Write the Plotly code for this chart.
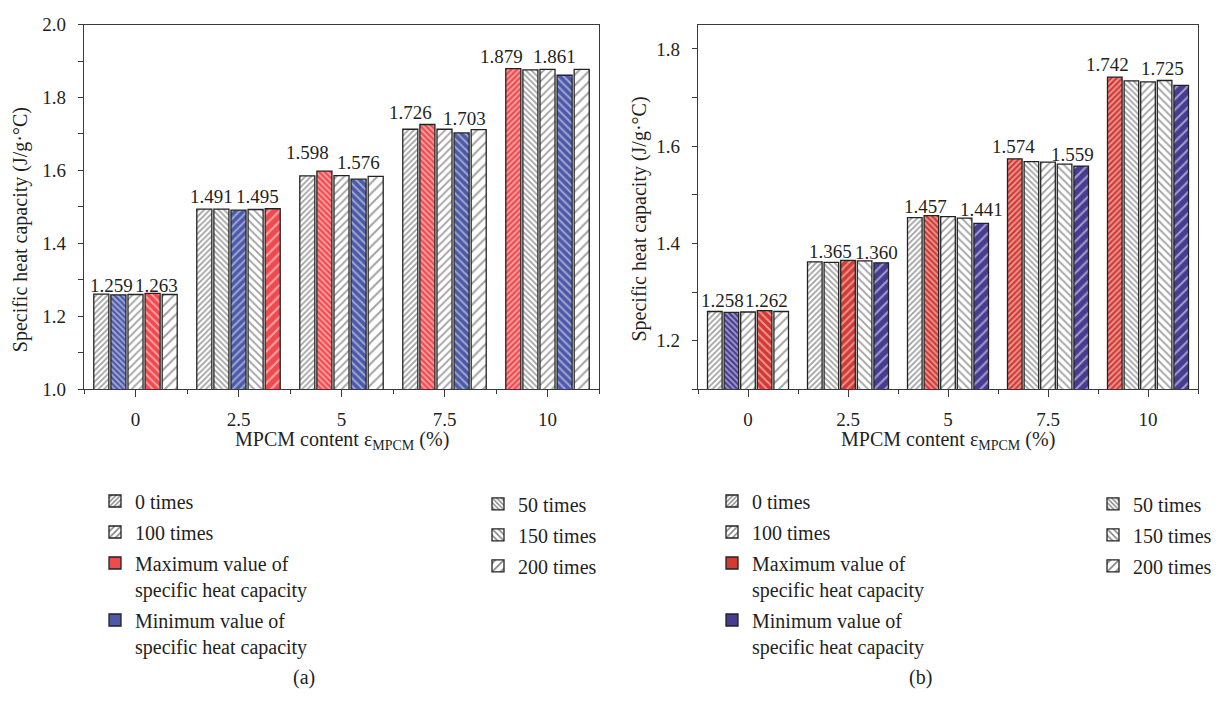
import plotly.graph_objects as go

# MPCM content (%) and its tick labels
contents = [0, 2.5, 5, 7.5, 10]
content_labels = ["0", "2.5", "5", "7.5", "10"]
cycles = ["0 times", "50 times", "100 times", "150 times", "200 times"]

# Specific heat capacity (J/g·°C) after each number of cycles, panel (a)
cp_a_0 = [1.261, 1.494, 1.585, 1.713, 1.879]
cp_a_50 = [1.259, 1.494, 1.598, 1.726, 1.876]
cp_a_100 = [1.260, 1.491, 1.586, 1.713, 1.877]
cp_a_150 = [1.263, 1.493, 1.576, 1.703, 1.861]
cp_a_200 = [1.260, 1.495, 1.584, 1.712, 1.877]

# Specific heat capacity (J/g·°C) after each number of cycles, panel (b)
cp_b_0 = [1.260, 1.362, 1.453, 1.574, 1.742]
cp_b_50 = [1.258, 1.361, 1.457, 1.568, 1.734]
cp_b_100 = [1.259, 1.365, 1.455, 1.567, 1.732]
cp_b_150 = [1.262, 1.364, 1.452, 1.563, 1.735]
cp_b_200 = [1.260, 1.360, 1.441, 1.559, 1.725]

W, H = 1226, 703
SERIF = "Liberation Serif, Times New Roman, Times, serif"
INK = "#231f20"
AXIS = "#3a3a3a"

# hatch style per cycle count: (shape, tile size, solidity)
hatch = [("/", 4, 0.45), ("\\", 4, 0.45), ("/", 5.5, 0.34), ("\\", 5.5, 0.34), ("/", 7.5, 0.26)]

BARGAP = 0.17
SLOT = 2.5 * (1 - BARGAP) / 5  # x-width taken by one bar of a group

panels = [
    dict(series=[cp_a_0, cp_a_50, cp_a_100, cp_a_150, cp_a_200], xa="x", ya="y",
         red="#ef4b4f", blue="#4c5aa8",
         # label nudges in px (dx, gap above bar) for max and min labels of each group
         max_nudge=[(3.5, 1.5), (-15, 5.4), (-17, 12.4), (-17, 5.4), (-12, 5.4)],
         min_nudge=[(-7, 2.9), (-27, 6.9), (0, 10.7), (3, 8.1), (-10, 12.1)],
         legends=("legend", "legend2")),
    dict(series=[cp_b_0, cp_b_50, cp_b_100, cp_b_150, cp_b_200], xa="x2", ya="y2",
         red="#d23a33", blue="#463d92",
         max_nudge=[(1.5, 3.3), (-17.5, 2.5), (-5.8, 2.5), (-1.5, 5.7), (-7.4, 5.7)],
         min_nudge=[(-8.5, 5.3), (-4.7, 3.7), (0, 7.2), (-8.6, 4.8), (-18.7, 10.8)],
         legends=("legend3", "legend4")),
]

fig = go.Figure()
annotations = []

for p in panels:
    series = p["series"]
    n_groups = len(contents)
    max_idx = [max(range(5), key=lambda s: series[s][g]) for g in range(n_groups)]
    min_idx = [min(range(5), key=lambda s: series[s][g]) for g in range(n_groups)]

    for s, vals in enumerate(series):
        colors = []
        for g in range(n_groups):
            if max_idx[g] == s:
                colors.append(p["red"])
            elif min_idx[g] == s:
                colors.append(p["blue"])
            else:
                colors.append("white")
        shape, size, sol = hatch[s]
        fig.add_trace(go.Bar(
            x=contents, y=vals, name=cycles[s], showlegend=False,
            xaxis=p["xa"], yaxis=p["ya"],
            marker=dict(color=colors, line=dict(color="#222222", width=1.3),
                        pattern=dict(shape=shape, size=size, solidity=sol,
                                     fgcolor="#000000", fillmode="overlay")),
        ))

    # value labels for the maximum and minimum bar of every group
    for g in range(n_groups):
        for idx, nudge in ((max_idx[g], p["max_nudge"][g]), (min_idx[g], p["min_nudge"][g])):
            v = series[idx][g]
            xc = contents[g] - 2.5 * (1 - BARGAP) / 2 + SLOT * (idx + 0.5)
            annotations.append(dict(
                x=xc, y=v, xref=p["xa"], yref=p["ya"], text=f"{v:.3f}",
                showarrow=False, xanchor="center", yanchor="bottom",
                xshift=nudge[0], yshift=nudge[1] - 6,
                font=dict(family=SERIF, size=19, color=INK)))

    # legend entries (drawn on a hidden axis pair so they do not take bar slots)
    left_leg, right_leg = p["legends"]
    entries = [
        (cycles[0], "white", hatch[0], left_leg),
        (cycles[2], "white", hatch[2], left_leg),
        ("Maximum value of<br>specific heat capacity", p["red"], None, left_leg),
        ("Minimum value of<br>specific heat capacity", p["blue"], None, left_leg),
        (cycles[1], "white", hatch[1], right_leg),
        (cycles[3], "white", hatch[3], right_leg),
        (cycles[4], "white", hatch[4], right_leg),
    ]
    for name, col, h, leg in entries:
        pat = dict(shape="") if h is None else dict(shape=h[0], size=h[1], solidity=h[2],
                                                     fgcolor="#000000", fillmode="overlay")
        fig.add_trace(go.Bar(
            x=[None], y=[None], name=name, legend=leg, legendgroup=leg + name,
            xaxis="x3", yaxis="y3", showlegend=True,
            marker=dict(color=col, line=dict(color="#222222", width=1.3), pattern=pat),
        ))

y_lo, y_hi = 1 - 391 / H, 1 - 15 / H

xaxis_common = dict(
    range=[-1.25, 11.25], tickvals=contents, ticktext=content_labels,
    showline=True, mirror=True, linecolor=AXIS, linewidth=1.3,
    ticks="outside", ticklen=7, tickwidth=1.2, tickcolor=AXIS,
    minor=dict(tickvals=[-1.25, 1.25, 3.75, 6.25, 8.75, 11.25], ticks="outside",
               ticklen=4, tickwidth=1.2, tickcolor=AXIS),
    showgrid=False, zeroline=False, ticklabelstandoff=6,
    tickfont=dict(family=SERIF, size=19, color=INK),
)
yaxis_common = dict(
    showline=True, mirror=True, linecolor=AXIS, linewidth=1.3,
    ticks="outside", ticklen=5, tickwidth=1.2, tickcolor=AXIS,
    showgrid=False, zeroline=False, tickformat=".1f", ticklabelstandoff=8,
    tickfont=dict(family=SERIF, size=19, color=INK),
)

fig.update_layout(
    xaxis=dict(domain=[84 / W, 599 / W], anchor="y", **xaxis_common),
    yaxis=dict(domain=[y_lo, y_hi], anchor="x", range=[1.0, 2.0], dtick=0.2, tick0=1.0,
               minor=dict(dtick=0.1, ticks="outside", ticklen=5, tickwidth=1.2, tickcolor=AXIS),
               **yaxis_common),
    xaxis2=dict(domain=[698 / W, 1198 / W], anchor="y2", **xaxis_common),
    yaxis2=dict(domain=[y_lo, y_hi], anchor="x2", range=[1.1, 1.85], dtick=0.2, tick0=1.2,
                minor=dict(dtick=0.1, tick0=1.1, ticks="outside", ticklen=5, tickwidth=1.2,
                           tickcolor=AXIS),
                **yaxis_common),
    xaxis3=dict(domain=[0, 0.001], anchor="y3", visible=False),
    yaxis3=dict(domain=[0, 0.001], anchor="x3", visible=False),
)

legend_common = dict(xanchor="left", yanchor="top", bgcolor="rgba(0,0,0,0)",
                     font=dict(family=SERIF, size=20, color=INK),
                     traceorder="grouped", tracegroupgap=2, valign="top",
                     itemclick=False, itemdoubleclick=False)
fig.update_layout(
    legend=dict(x=95 / W, y=1 - 486 / H, **legend_common),
    legend2=dict(x=478 / W, y=1 - 489 / H, **legend_common),
    legend3=dict(x=712 / W, y=1 - 486 / H, **legend_common),
    legend4=dict(x=1093 / W, y=1 - 489 / H, **legend_common),
)

# axis titles and panel tags
x_title = "MPCM content ε<sub>MPCM</sub> (%)"
y_title = "Specific heat capacity (J/g·°C)"
title_font = dict(family=SERIF, size=20, color=INK)
annotations += [
    dict(x=0.5, y=1 - 444 / H, xref="x domain", yref="paper", text=x_title,
         showarrow=False, xanchor="center", yanchor="middle", font=title_font),
    dict(x=0.5, y=1 - 444 / H, xref="x2 domain", yref="paper", text=x_title,
         showarrow=False, xanchor="center", yanchor="middle", font=title_font),
    dict(x=20 / W, y=1 - 227 / H, xref="paper", yref="paper", text=y_title, textangle=-90,
         showarrow=False, xanchor="center", yanchor="middle", font=title_font),
    dict(x=640 / W, y=1 - 216 / H, xref="paper", yref="paper", text=y_title, textangle=-90,
         showarrow=False, xanchor="center", yanchor="middle", font=title_font),
    dict(x=304 / W, y=1 - 688 / H, xref="paper", yref="paper", text="(a)",
         showarrow=False, xanchor="center", yanchor="middle", font=title_font),
    dict(x=920 / W, y=1 - 688 / H, xref="paper", yref="paper", text="(b)",
         showarrow=False, xanchor="center", yanchor="middle", font=title_font),
]

fig.update_layout(
    width=W, height=H, margin=dict(l=0, r=0, t=0, b=0),
    paper_bgcolor="white", plot_bgcolor="white",
    barmode="group", bargap=BARGAP, bargroupgap=0.12,
    font=dict(family=SERIF, size=19, color=INK),
    annotations=annotations, showlegend=True,
)

fig.write_html("out.html")
